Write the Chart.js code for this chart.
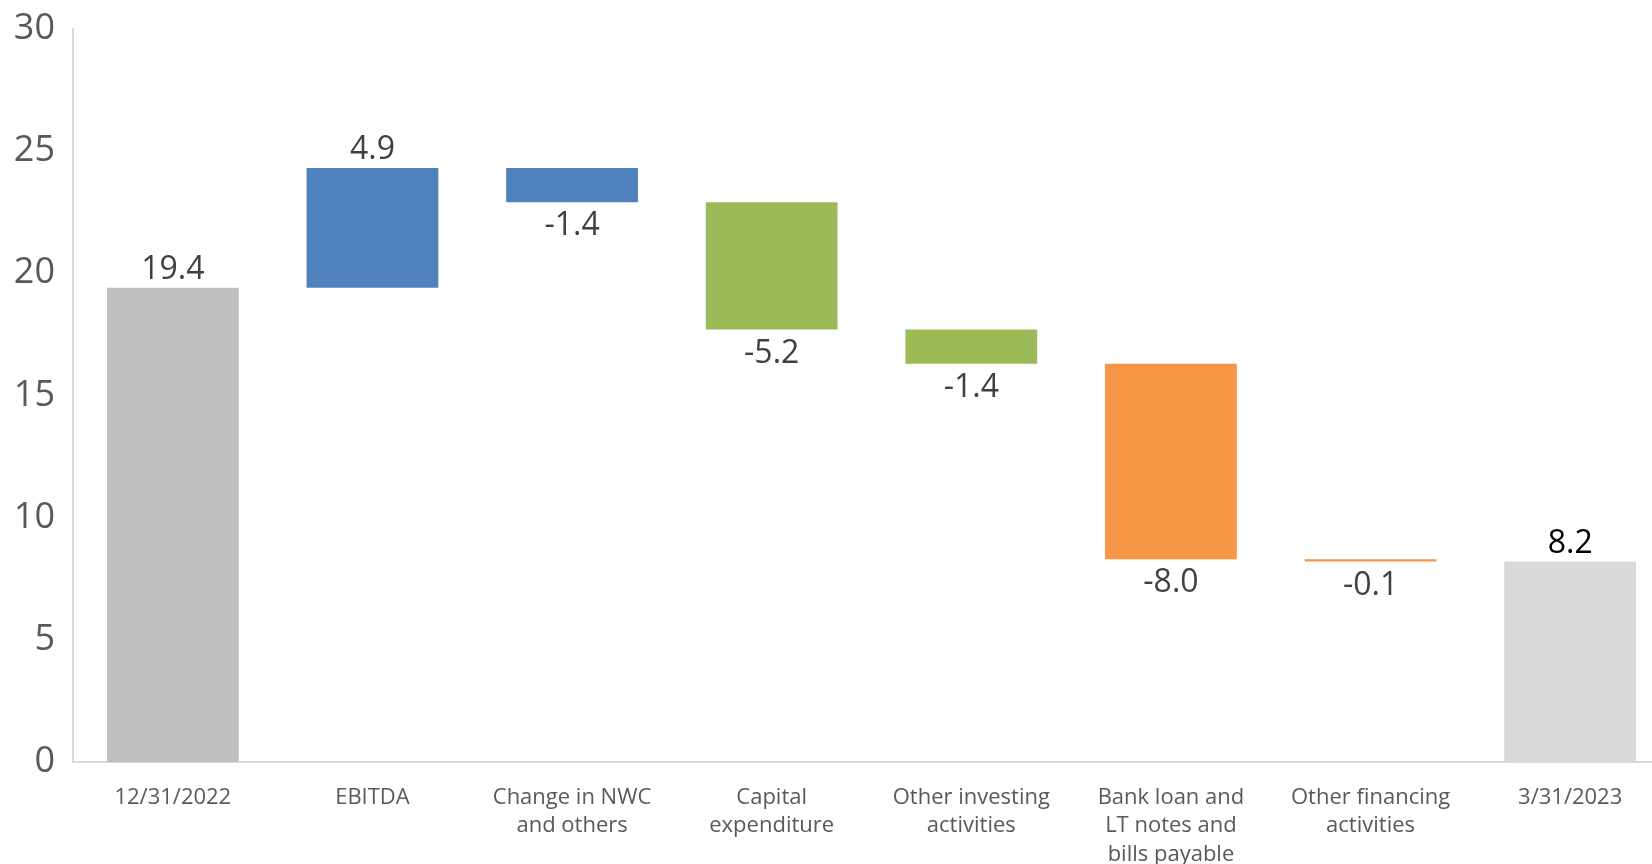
<!DOCTYPE html>
<html>
<head>
<meta charset="utf-8">
<script src="https://cdn.jsdelivr.net/npm/chart.js@4/dist/chart.umd.min.js"></script>
<style>
  html, body { margin: 0; padding: 0; background: #fff; overflow: hidden; }
  #wrap { width: 1670px; height: 864px; }
</style>
</head>
<body>
<div id="wrap"><canvas id="chart"></canvas></div>
<script>
// waterfall data
const categories = [
  '12/31/2022',
  'EBITDA',
  ['Change in NWC', 'and others'],
  ['Capital', 'expenditure'],
  ['Other investing', 'activities'],
  ['Bank loan and', 'LT notes and', 'bills payable'],
  ['Other financing', 'activities'],
  '3/31/2023'
];
const startValue = 19.4;
const changes = [4.9, -1.4, -5.2, -1.4, -8.0, -0.1];
const endValue = 8.2;
const barColors = ['#BFBFBF', '#4F81BD', '#4F81BD', '#9BBB59', '#9BBB59', '#F79646', '#F79646', '#D9D9D9'];
const yTicks = [0, 5, 10, 15, 20, 25, 30];

// build floating bars [low, high]
const floating = [[0, startValue]];
const labelValues = [startValue];
let running = startValue;
changes.forEach((c) => {
  const next = Math.round((running + c) * 10) / 10;
  floating.push([running, next]);
  labelValues.push(c);
  running = next;
});
floating.push([0, endValue]);
labelValues.push(endValue);

const valueLabels = {
  id: 'valueLabels',
  afterDatasetsDraw(chart) {
    const ctx = chart.ctx;
    const meta = chart.getDatasetMeta(0);
    ctx.save();
    ctx.font = '32px "Open Sans", "Noto Sans", sans-serif';
    ctx.textAlign = 'center';
    meta.data.forEach((bar, i) => {
      const v = labelValues[i];
      const top = Math.min(bar.y, bar.base);
      const bottom = Math.max(bar.y, bar.base);
      ctx.fillStyle = i === labelValues.length - 1 ? '#000000' : '#404040';
      if (v >= 0) {
        ctx.textBaseline = 'bottom';
        ctx.fillText(v.toFixed(1), bar.x, top - 2);
      } else {
        ctx.textBaseline = 'top';
        ctx.fillText(v.toFixed(1), bar.x, bottom + 8);
      }
    });
    ctx.restore();
  }
};

new Chart(document.getElementById('chart').getContext('2d'), {
  type: 'bar',
  data: {
    labels: categories,
    datasets: [{
      data: floating,
      backgroundColor: barColors,
      borderSkipped: false,
      barPercentage: 0.66,
      categoryPercentage: 1.0
    }]
  },
  options: {
    responsive: true,
    maintainAspectRatio: false,
    animation: false,
    layout: { padding: { top: 28, left: 0, right: 0, bottom: 0 } },
    plugins: {
      legend: { display: false },
      tooltip: { enabled: false }
    },
    scales: {
      x: {
        grid: { display: false, drawTicks: false },
        border: { color: '#D9D9D9', width: 2 },
        ticks: {
          color: '#595959',
          font: { family: '"Open Sans", "Noto Sans", sans-serif', size: 22, lineHeight: 1.3 },
          padding: 21,
          maxRotation: 0,
          autoSkip: false
        },
        afterFit(scale) { scale.height = 102; }
      },
      y: {
        min: 0,
        max: 30,
        afterBuildTicks(scale) { scale.ticks = yTicks.map((v) => ({ value: v })); },
        grid: { display: false, drawTicks: false },
        border: { color: '#D9D9D9', width: 2 },
        ticks: {
          color: '#595959',
          font: { family: '"Open Sans", "Noto Sans", sans-serif', size: 36, lineHeight: 0.6 },
          padding: 18
        },
        afterFit(scale) { scale.width = 73; }
      }
    }
  },
  plugins: [valueLabels]
});
</script>
</body>
</html>
